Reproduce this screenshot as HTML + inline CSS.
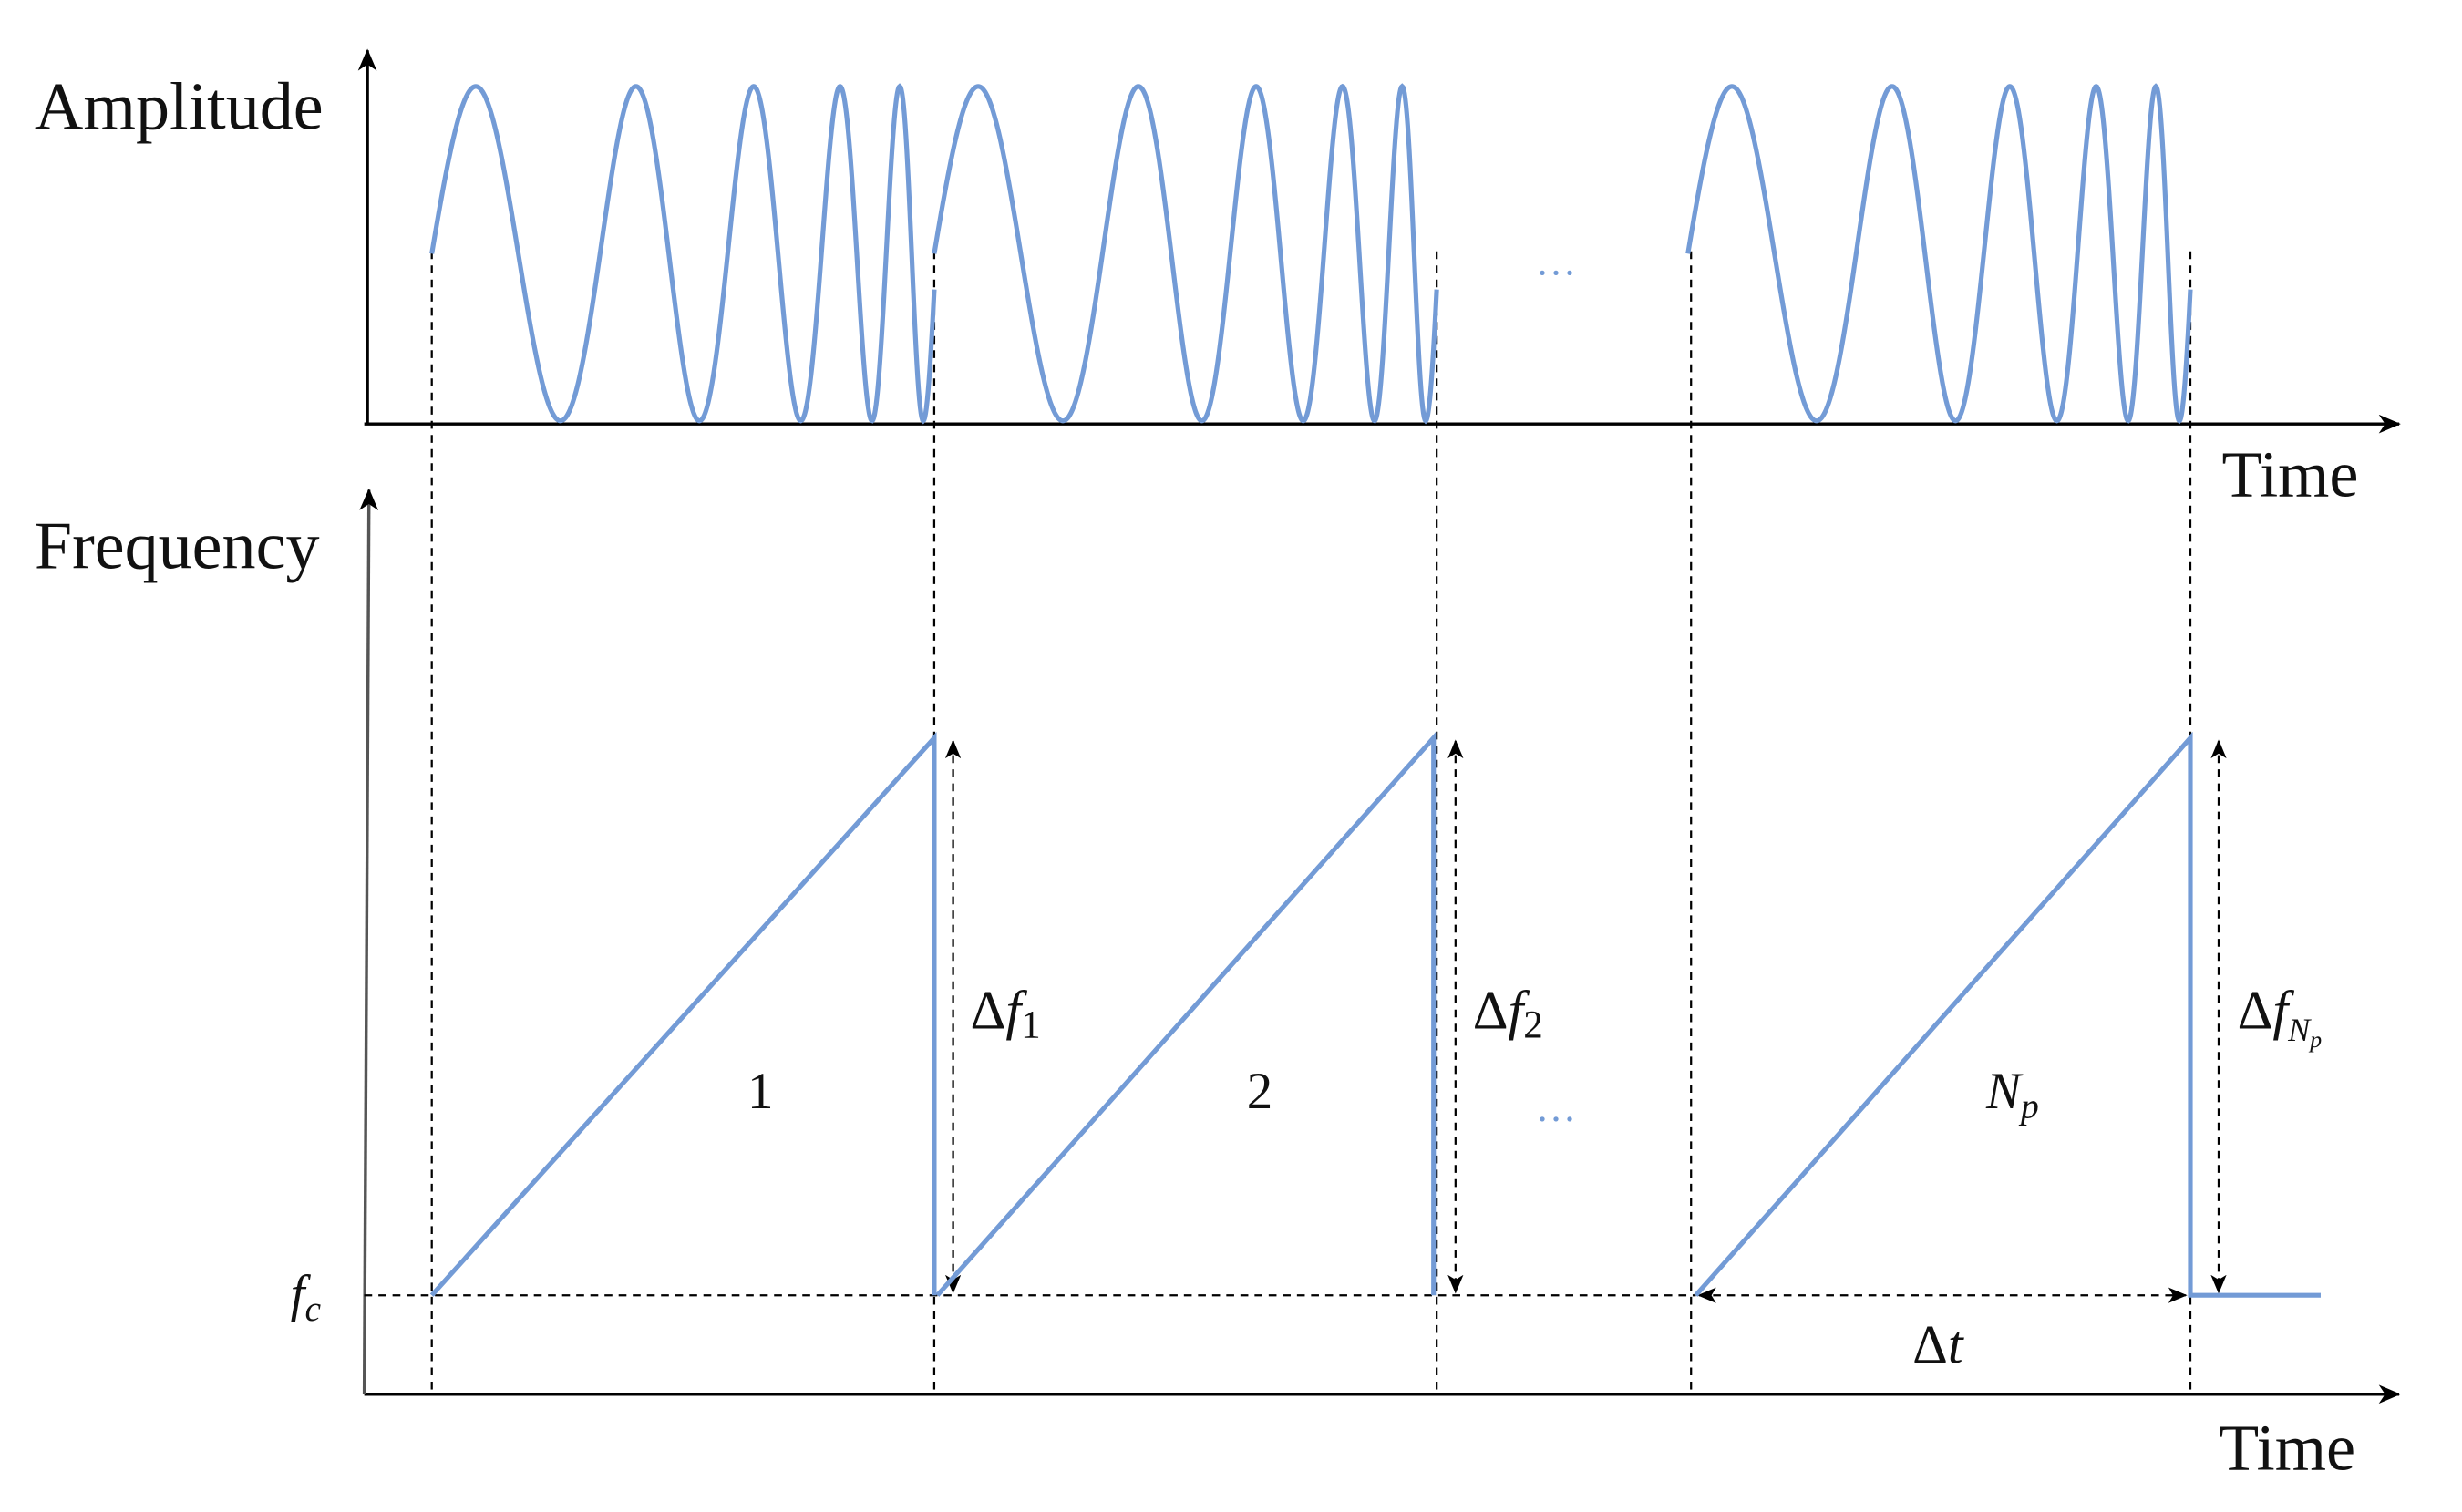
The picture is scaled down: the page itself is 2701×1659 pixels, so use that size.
<!DOCTYPE html>
<html><head><meta charset="utf-8"><style>
html,body{margin:0;padding:0;background:#fff;}
svg{display:block;}
text{font-family:"Liberation Serif",serif;fill:#111;}
</style></head><body>
<svg id="s" width="2701" height="1659" viewBox="0 0 1568 963" xmlns="http://www.w3.org/2000/svg">
<defs>
<marker id="ah" markerWidth="14" markerHeight="12" refX="13" refY="6" orient="auto" markerUnits="userSpaceOnUse">
<path d="M0,0 L14,6 L0,12 L4,6 z" fill="#000"/></marker>
<marker id="sa" markerWidth="12" markerHeight="10" refX="11" refY="5" orient="auto-start-reverse" markerUnits="userSpaceOnUse">
<path d="M0,0 L12,5 L0,10 L3,5 z" fill="#000"/></marker>
</defs>
<line x1="232" y1="270" x2="1528" y2="270" stroke="#000" stroke-width="2" marker-end="url(#ah)"/>
<line x1="234" y1="270" x2="234" y2="32" stroke="#000" stroke-width="2" marker-end="url(#ah)"/>
<line x1="232" y1="888" x2="1528" y2="888" stroke="#000" stroke-width="2" marker-end="url(#ah)"/>
<line x1="232" y1="888" x2="235" y2="312" stroke="#555" stroke-width="2" marker-end="url(#ah)"/>
<g stroke="#000" stroke-width="1.3" stroke-dasharray="5,4">
<line x1="275" y1="160" x2="275" y2="888"/>
<line x1="595" y1="160" x2="595" y2="888"/>
<line x1="915" y1="160" x2="915" y2="888"/>
<line x1="1077" y1="160" x2="1077" y2="888"/>
<line x1="1395" y1="160" x2="1395" y2="888"/>
<line x1="232" y1="825" x2="1080" y2="825"/>
<line x1="607" y1="472" x2="607" y2="823" marker-start="url(#sa)" marker-end="url(#sa)"/>
<line x1="927" y1="472" x2="927" y2="823" marker-start="url(#sa)" marker-end="url(#sa)"/>
<line x1="1413" y1="472" x2="1413" y2="823" marker-start="url(#sa)" marker-end="url(#sa)"/>
<line x1="1082" y1="825" x2="1392" y2="825" marker-start="url(#sa)" marker-end="url(#sa)"/>
</g>
<g id="chirps" fill="none" stroke="#739bd6" stroke-width="3"></g>
<g fill="none" stroke="#739bd6" stroke-width="3">
<polyline points="275,825 595,470 595,825"/>
<polyline points="597,825 913,470 913,825"/>
<polyline points="1080,825 1395,470 1395,825 1478,825"/>
</g>
<text x="22" y="82" font-size="43">Amplitude</text>
<text x="1415" y="316" font-size="42">Time</text>
<text x="22" y="362" font-size="43">Frequency</text>
<text x="1413" y="936" font-size="42">Time</text>
<text x="618" y="655" font-size="35">Δ<tspan font-style="italic">f</tspan><tspan font-size="25" dy="6">1</tspan></text>
<text x="938" y="655" font-size="35">Δ<tspan font-style="italic">f</tspan><tspan font-size="25" dy="6">2</tspan></text>
<text x="1425" y="655" font-size="35">Δ<tspan font-style="italic">f</tspan><tspan font-size="21" dy="8" font-style="italic">N<tspan font-size="15" dy="4">p</tspan></tspan></text>
<text x="476" y="706" font-size="33">1</text>
<text x="794" y="706" font-size="33">2</text>
<text x="1265" y="706" font-size="33" font-style="italic">N<tspan font-size="23" dy="6">p</tspan></text>
<text x="1218" y="868" font-size="35">Δ<tspan font-style="italic">t</tspan></text>
<text x="185" y="835" font-size="33" font-style="italic">f<tspan font-size="23" dy="6">c</tspan></text>
<text x="978" y="175" font-size="26" style="fill:#739bd6">…</text>
<text x="978" y="714" font-size="26" style="fill:#739bd6">…</text>
</svg>
<script>
(function(){
var P=Math.PI;
var ts=[0,28,130,205,260,298,313,320];
var ph=[0,P/2,5*P/2,9*P/2,13*P/2,17*P/2,19*P/2,31.2];
function slope(i){if(i==0)return (ph[1]-ph[0])/(ts[1]-ts[0]);if(i==ts.length-1)return (ph[i]-ph[i-1])/(ts[i]-ts[i-1]);
var a=(ph[i]-ph[i-1])/(ts[i]-ts[i-1]),b=(ph[i+1]-ph[i])/(ts[i+1]-ts[i]);return (a+b)/2;}
function phase(t){for(var i=0;i<ts.length-1;i++){if(t<=ts[i+1]){var u=(t-ts[i])/(ts[i+1]-ts[i]);
var s0=slope(i),s1=slope(i+1),h=ts[i+1]-ts[i];var u2=u*u,u3=u2*u;
return (2*u3-3*u2+1)*ph[i]+(u3-2*u2+u)*h*s0+(-2*u3+3*u2)*ph[i+1]+(u3-u2)*h*s1;}}return ph[ph.length-1];}
var g=document.getElementById('chirps');
[275,595,1075].forEach(function(x0){
var d='';for(var t=0;t<=320;t+=0.5){var y=161.5-106.5*Math.sin(phase(t));d+=(t==0?'M':'L')+(x0+t).toFixed(2)+','+y.toFixed(2);}
var p=document.createElementNS('http://www.w3.org/2000/svg','path');p.setAttribute('d',d);g.appendChild(p);});
})();
</script>
</body></html>
